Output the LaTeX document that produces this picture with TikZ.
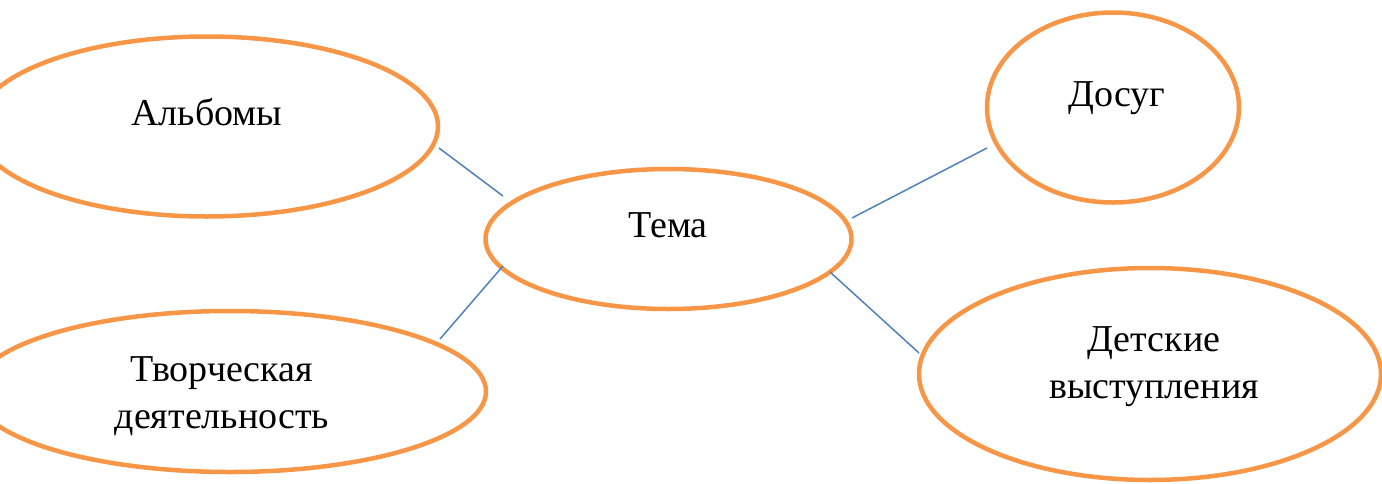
\documentclass[tikz,border=0pt]{standalone}
\usepackage{fontspec}
\setmainfont{Liberation Serif}
\usetikzlibrary{shapes.geometric,calc}
\definecolor{ovalorange}{HTML}{F79646}
\definecolor{linkblue}{HTML}{4F81BD}
\tikzset{
  oval/.style={ellipse, draw=ovalorange, line width=4.5pt, inner sep=0pt, fill=none},
  lbl/.style={font=\fontsize{38}{47}\selectfont, inner sep=0pt, align=center, anchor=base},
  conn/.style={draw=linkblue, line width=1.5pt}
}
\begin{document}
\begin{tikzpicture}[x=1pt,y=-1pt]
\useasboundingbox (0,0) rectangle (1382,483);
\clip (0,0) rectangle (1382,483);
% ovals
\node[oval, minimum width=462pt, minimum height=180pt] (alb) at (207,126.5) {};
\node[oval, minimum width=366pt, minimum height=140pt] (tema) at (668.5,239) {};
\node[oval, minimum width=252pt, minimum height=190pt] (dosug) at (1113,107.5) {};
\node[oval, minimum width=512pt, minimum height=161pt] (tvor) at (230,391.5) {};
\node[oval, minimum width=462pt, minimum height=212pt] (det) at (1150,374) {};
% labels
\node[lbl] (albT) at (207,125) {Альбомы};
\node[lbl] (temaT) at (668,237) {Тема};
\node[lbl] (dosugT) at (1117,106) {Досуг};
\node[lbl] (tvorT) at (222,428) {Творческая\\деятельность};
\node[lbl] (detT) at (1154,398) {Детские\\выступления};
% connectors
\draw[conn] ($(alb)+(232,21.5)$) -- ($(tema)+(-165.5,-43)$);
\draw[conn] ($(tema)+(-165.5,27)$) -- ($(tvor)+(210,-52.5)$);
\draw[conn] ($(tema)+(183.5,-21)$) -- ($(dosug)+(-126,40.5)$);
\draw[conn] ($(tema)+(161.5,33)$) -- ($(det)+(-231,-21)$);
\end{tikzpicture}
\end{document}
